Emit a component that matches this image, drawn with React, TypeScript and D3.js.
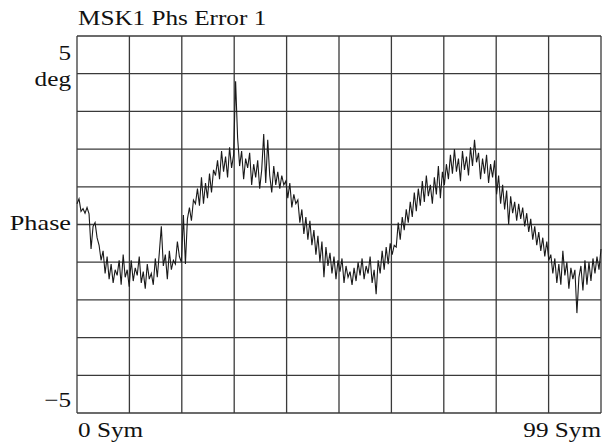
import React from "react";
import * as d3 from "d3";

const title = "MSK1 Phs Error 1";
const yTopLabel = "5";
const yUnitLabel = "deg";
const yMidLabel = "Phase";
const yBottomLabel = "\u22125";
const xStartLabel = "0 Sym";
const xEndLabel = "99 Sym";

const yDomain = [-5, 5];
const gridDivisions = 10;

// Phase error in degrees, sampled evenly across 0..99 symbols
const phaseError = [
  0.55, 0.68, 0.35, 0.42, 0.30, 0.45, 0.28, -0.65, -0.05, 0.05, -0.35,
  -0.55, -0.95, -0.70, -1.30, -0.85, -1.45, -1.05, -1.55, -1.20, -1.35,
  -0.95, -1.60, -0.80, -1.40, -1.20, -1.65, -0.95, -1.50, -1.15, -1.35,
  -0.85, -1.55, -1.25, -1.70, -1.05, -1.45, -1.30, -1.60, -0.90, -1.40,
  -0.75, -0.05, -1.10, -0.80, -1.45, -0.70, -1.20, -0.95, -1.05, -0.45,
  -0.85, -1.00, 0.25, -1.05, 0.15, 0.45, 0.10, 0.65, 0.55, 0.95,
  0.50, 1.25, 0.55, 1.10, 0.70, 1.35, 0.85, 1.45, 1.30, 1.70,
  1.20, 1.95, 1.40, 1.80, 1.25, 2.05, 1.50, 1.85, 3.80, 2.30,
  1.55, 1.95, 1.20, 1.75, 1.50, 1.90, 1.05, 1.60, 1.25, 1.70,
  0.95, 1.45, 2.40, 1.10, 2.25, 1.30, 0.85, 1.55, 1.05, 1.40,
  0.95, 1.30, 1.05, 1.15, 0.70, 1.10, 0.45, 0.80, 0.55, 0.65,
  0.05, 0.40, -0.25, 0.20, -0.40, 0.10, -0.55, -0.15, -0.80, -0.30,
  -1.00, -0.45, -1.40, -0.60, -1.10, -0.75, -1.30, -0.85, -1.45, -0.95,
  -1.25, -0.90, -1.55, -1.10, -1.40, -1.25, -1.60, -1.15, -1.50, -1.00,
  -1.35, -0.90, -1.45, -1.10, -1.30, -0.85, -1.55, -1.20, -1.85, -0.95,
  -1.30, -0.70, -1.20, -0.60, -1.05, -0.50, -0.80, -0.55, -0.60, 0.05,
  -0.40, 0.20, -0.15, 0.40, 0.05, 0.60, 0.20, 0.85, 0.35, 0.95,
  0.50, 1.15, 0.60, 1.30, 0.75, 1.05, 0.55, 1.25, 0.80, 1.55,
  0.70, 1.40, 1.05, 1.60, 1.20, 1.85, 1.35, 2.00, 1.40, 1.75,
  1.15, 1.95, 1.45, 1.80, 1.30, 2.05, 1.55, 2.25, 1.65, 1.90,
  1.20, 1.75, 1.35, 1.85, 1.10, 1.60, 1.25, 1.70, 0.80, 1.30,
  0.55, 1.05, 0.40, 0.90, 0.00, 0.75, 0.30, 0.60, 0.10, 0.55,
  0.15, 0.45, -0.05, 0.30, -0.20, 0.15, -0.40, -0.05, -0.55, -0.20,
  -0.70, -0.35, -0.85, -0.45, -0.95, -0.80, -1.30, -0.90, -1.55, -1.05,
  -1.60, -0.70, -1.35, -1.00, -1.70, -1.15, -1.45, -1.20, -2.35, -1.40,
  -1.10, -1.75, -0.95, -1.60, -1.00, -1.50, -0.90, -1.30, -0.85, -1.20,
  -0.65,
];

const W = 609;
const H = 445;
const plot = { left: 77, right: 601, top: 36, bottom: 413 };

type LabelProps = {
  x: number;
  y: number;
  anchor?: "start" | "end";
  size?: number;
  stretch?: number;
  children: React.ReactNode;
};

function Label({ x, y, anchor = "start", size = 21, stretch = 1.2, children }: LabelProps) {
  return (
    <text
      transform={`translate(${x},${y}) scale(${stretch},1)`}
      fontSize={size}
      textAnchor={anchor}
      fill="#111"
    >
      {children}
    </text>
  );
}

export default function App() {
  const x = d3.scaleLinear().domain([0, phaseError.length - 1]).range([plot.left, plot.right]);
  const y = d3.scaleLinear().domain(yDomain).range([plot.bottom, plot.top]);
  const gx = d3.scaleLinear().domain([0, gridDivisions]).range([plot.left, plot.right]);
  const gy = d3.scaleLinear().domain([0, gridDivisions]).range([plot.top, plot.bottom]);
  const ticks = d3.range(gridDivisions + 1);
  const line = d3
    .line<number>()
    .x((_, i) => x(i))
    .y((d) => y(d));

  const font = "'Liberation Serif', 'Times New Roman', serif";
  const gridColor = "#3a3a3a";

  return (
    <svg
      width={W}
      height={H}
      style={{ position: "absolute", left: 0, top: 0, background: "#fff" }}
      fontFamily={font}
    >
      <rect x={0} y={0} width={W} height={H} fill="#fff" />
      <g>
        {ticks.map((t) => (
          <line
            key={"v" + t}
            x1={gx(t)}
            x2={gx(t)}
            y1={plot.top}
            y2={plot.bottom}
            stroke={gridColor}
            strokeWidth={1.3}
          />
        ))}
        {ticks.map((t) => (
          <line
            key={"h" + t}
            x1={plot.left}
            x2={plot.right}
            y1={gy(t)}
            y2={gy(t)}
            stroke={gridColor}
            strokeWidth={1.3}
          />
        ))}
      </g>
      <path
        d={line(phaseError) || ""}
        fill="none"
        stroke="#1a1a1a"
        strokeWidth={1.1}
      />
      <Label x={78} y={25} size={21} stretch={1.2}>{title}</Label>
      <Label x={71} y={60} anchor="end">{yTopLabel}</Label>
      <Label x={71} y={86} anchor="end">{yUnitLabel}</Label>
      <Label x={71} y={y(0) + 5} anchor="end" size={21} stretch={1.25}>{yMidLabel}</Label>
      <Label x={71} y={407} anchor="end">{yBottomLabel}</Label>
      <Label x={x(0) + 1} y={437}>{xStartLabel}</Label>
      <Label x={plot.right} y={437} anchor="end">{xEndLabel}</Label>
    </svg>
  );
}
